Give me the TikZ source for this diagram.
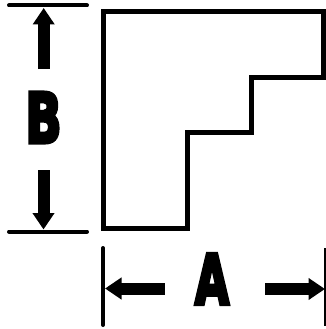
\documentclass[tikz,border=0pt]{standalone}
\usepackage{fontspec}
\usepackage{graphicx}
\usetikzlibrary{arrows.meta}
\newfontfamily\heavyfont[FakeBold=6]{DejaVu Sans Bold}
\tikzset{
  outline/.style={line width=5pt,line join=miter,black},
  extline/.style={line width=4pt,line cap=round,black},
  thinext/.style={line width=2pt,black},
  dimarrow/.style={line width=12pt,black,-{Triangle[length=16.5pt,width=21pt,inset=0pt]}},
  dimlabel/.style={inner sep=0pt,outer sep=0pt,black}
}
\begin{document}
\begin{tikzpicture}[x=1pt,y=-1pt]
\useasboundingbox (0,0) rectangle (326,329);
% stepped outline
\draw[outline] (103,11.5) -- (323.5,11.5) -- (323.5,77.5) -- (251,77.5) -- (251,132) -- (187,132) -- (187,228) -- (103,228) -- cycle;
% named ends of the dimension lines
\coordinate (topL) at (9,5.5);
\coordinate (topR) at (87,5.5);
\coordinate (botL) at (9,231.5);
\coordinate (botR) at (87,231.5);
\coordinate (aL1) at (103,248);
\coordinate (aL2) at (103,325);
\coordinate (aR1) at (325,248);
\coordinate (aR2) at (325,326);
\draw[extline] (topL) -- (topR);
\draw[extline] (botL) -- (botR);
\draw[extline] (aL1) -- (aL2);
\draw[thinext] (aR1) -- (aR2);
% arrow anchors
\coordinate (upS) at (43.7,69);
\coordinate (upT) at (43.7,8);
\coordinate (dnS) at (43.5,170);
\coordinate (dnT) at (43.5,229.5);
\coordinate (lfS) at (164.5,288.5);
\coordinate (lfT) at (105,288.5);
\coordinate (rtS) at (265,289);
\coordinate (rtT) at (325,289);
\draw[dimarrow] (upS) -- (upT);
\draw[dimarrow] (dnS) -- (dnT);
\draw[dimarrow] (lfS) -- (lfT);
\draw[dimarrow] (rtS) -- (rtT);
% labels
\node[dimlabel] (B) at (43.5,117.5) {\resizebox{36pt}{50pt}{\heavyfont B}};
\node[dimlabel] (A) at (212,279) {\resizebox{34pt}{50pt}{\heavyfont A}};
\end{tikzpicture}
\end{document}
